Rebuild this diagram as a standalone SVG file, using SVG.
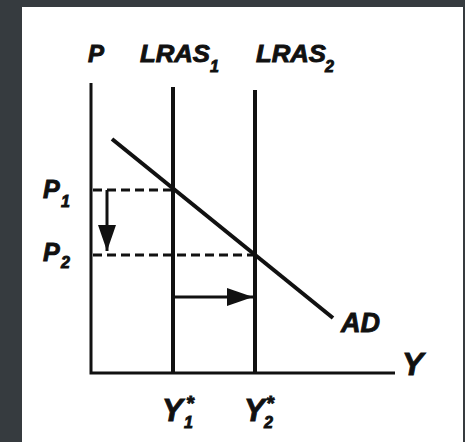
<svg xmlns="http://www.w3.org/2000/svg" width="465" height="442" viewBox="0 0 465 442">
<defs>
<style>
.lbl{font-family:"Liberation Sans",Arial,sans-serif;font-weight:bold;font-style:italic;fill:#111;stroke:#111;stroke-width:0.9}
.ax{stroke:#111;stroke-width:3;fill:none}
.curve{stroke:#111;stroke-width:4;fill:none}
.dash{stroke:#111;stroke-width:3;stroke-dasharray:9 5;fill:none}
.arr{stroke:#111;stroke-width:3;fill:none}
</style>
<marker id="ahBig" viewBox="0 0 26 18" refX="26" refY="9" markerWidth="26" markerHeight="18" markerUnits="userSpaceOnUse" orient="auto">
<path d="M0,0 L26,9 L0,18 Z" fill="#111"/>
</marker>
</defs>
<rect x="0" y="0" width="465" height="442" fill="#363b3f"/>
<rect x="22" y="7" width="441" height="435" fill="#ffffff"/>

<g id="axes">
<path class="ax" d="M91,83 V373 H395"/>
<text class="lbl" x="88" y="62" font-size="24">P</text>
<text class="lbl" x="402" y="375" font-size="32" font-style="normal">Y</text>
</g>

<g id="lras1">
<line class="curve" x1="173" y1="87" x2="173" y2="373"/>
<text class="lbl" x="140" y="62" font-size="24" textLength="70" lengthAdjust="spacingAndGlyphs">LRAS</text>
<text class="lbl" x="210" y="72" font-size="16">1</text>
</g>

<g id="lras2">
<line class="curve" x1="255" y1="90" x2="255" y2="373"/>
<text class="lbl" x="256" y="62" font-size="24" textLength="70" lengthAdjust="spacingAndGlyphs">LRAS</text>
<text class="lbl" x="325" y="72" font-size="16">2</text>
</g>

<g id="ad">
<line class="curve" x1="112" y1="139" x2="333" y2="318"/>
<text class="lbl" x="341" y="332" font-size="27">AD</text>
</g>

<g id="p1">
<text class="lbl" x="43" y="198" font-size="25">P</text>
<text class="lbl" x="61" y="207" font-size="16">1</text>
</g>

<g id="p2">
<text class="lbl" x="43" y="261" font-size="25">P</text>
<text class="lbl" x="61" y="268" font-size="16">2</text>
</g>

<g id="y1">
<text class="lbl" x="162" y="421" font-size="31">Y</text>
<text class="lbl" x="184" y="428" font-size="16">1</text>
<text class="lbl" x="186" y="410" font-size="20">*</text>
</g>

<g id="y2">
<text class="lbl" x="244" y="421" font-size="31">Y</text>
<text class="lbl" x="264" y="428" font-size="16">2</text>
<text class="lbl" x="266" y="410" font-size="20">*</text>
</g>

<g id="connectors">
<line class="dash" x1="93" y1="190" x2="173" y2="190"/>
<line class="dash" x1="93" y1="255" x2="255" y2="255"/>
<line class="arr" x1="107" y1="190" x2="107" y2="251" marker-end="url(#ahBig)"/>
<line class="arr" x1="173" y1="297" x2="253" y2="297" marker-end="url(#ahBig)"/>
</g>
</svg>
